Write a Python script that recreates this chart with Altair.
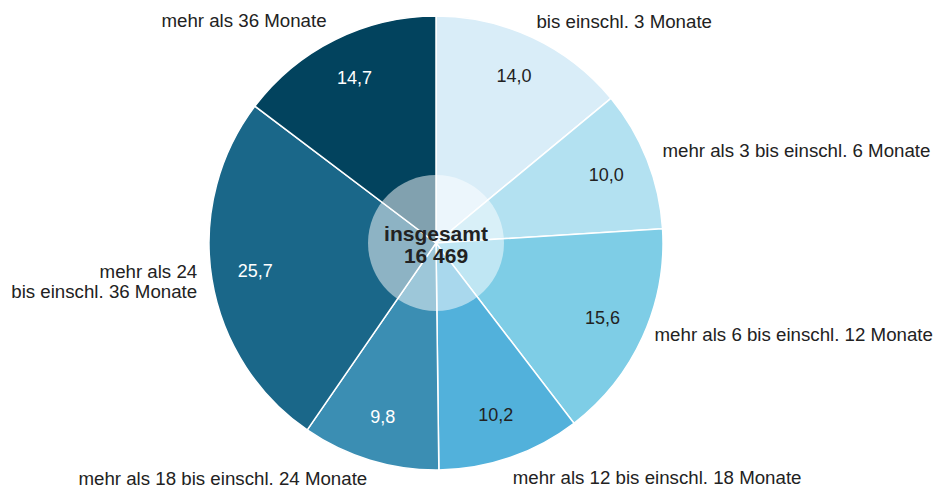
import altair as alt
import pandas as pd

categories = [
    "bis einschl. 3 Monate",
    "mehr als 3 bis einschl. 6 Monate",
    "mehr als 6 bis einschl. 12 Monate",
    "mehr als 12 bis einschl. 18 Monate",
    "mehr als 18 bis einschl. 24 Monate",
    "mehr als 24\nbis einschl. 36 Monate",
    "mehr als 36 Monate",
]
values = [14.0, 10.0, 15.6, 10.2, 9.8, 25.7, 14.7]
colors = ["#d9edf8", "#b3e1f1", "#7ecde6", "#52b1db", "#3b8eb3", "#1a6789", "#02435e"]
total_label = "insgesamt\n16 469"

FONT = "Liberation Sans"
CX, CY, R = 428, 235, 227
TXT = "#222222"

df = pd.DataFrame({"cat": categories, "value": values, "order": list(range(len(values)))})

base = alt.Chart(df).encode(
    theta=alt.Theta("value:Q", stack=True),
    order=alt.Order("order:Q"),
    x=alt.value(CX),
    y=alt.value(CY),
)

pie = base.mark_arc(radius=R, stroke="white", strokeWidth=1.5).encode(
    color=alt.Color("cat:N", scale=alt.Scale(domain=categories, range=colors), legend=None)
)

circle = alt.Chart(pd.DataFrame({"t": [total_label]})).mark_circle(
    size=136 ** 2, color="white", opacity=0.5
).encode(x=alt.value(CX), y=alt.value(CY))

center_text = alt.Chart(pd.DataFrame({"t": [total_label]})).mark_text(
    font=FONT, fontSize=21, fontWeight="bold", lineBreak="\n", lineHeight=22, color=TXT
).encode(text="t:N", x=alt.value(CX), y=alt.value(CY - 8))

vals = base.transform_calculate(
    lbl="replace(format(datum.value, '.1f'), '.', ',')"
).mark_text(radius=183, font=FONT, fontSize=18).encode(
    text="lbl:N",
    color=alt.condition(
        alt.FieldOneOfPredicate(field="order", oneOf=[4, 5, 6]),
        alt.value("white"),
        alt.value(TXT),
    ),
)


def cat_layer(members, line_height=22, **kw):
    return base.mark_text(
        radius=250, font=FONT, fontSize=18.7, color=TXT, lineBreak="\n",
        lineHeight=line_height, baseline="middle", **kw
    ).encode(
        text=alt.condition(
            alt.FieldOneOfPredicate(field="order", oneOf=members),
            alt.Text("cat:N"),
            alt.value(""),
        )
    )


layers = [
    cat_layer([0], align="left", dx=-6, dy=5),
    cat_layer([1], align="left", dx=-6),
    cat_layer([2], align="left", dx=-9, dy=-12),
    cat_layer([3], align="left", dx=-5, dy=-1),
    cat_layer([4], align="right", dx=4, dy=-3),
    cat_layer([5], line_height=20, align="right", dx=8, dy=-11),
    cat_layer([6], align="right", dx=2, dy=2),
]

chart = alt.layer(
    pie, circle, center_text, vals, *layers
).properties(
    width=925, height=481, padding=0, autosize="none"
).configure_view(stroke=None)

chart.save("out.html", embed_options={"renderer": "svg", "actions": False})
